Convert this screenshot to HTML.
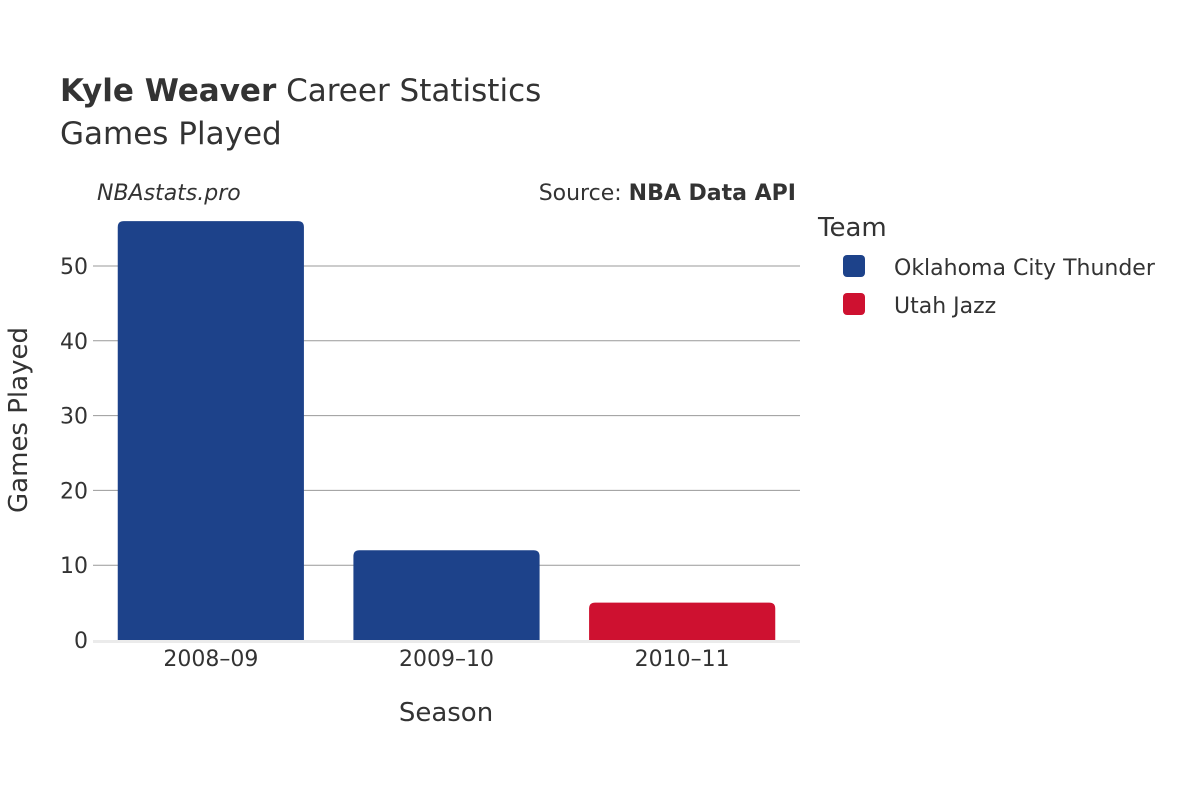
<!DOCTYPE html>
<html><head><meta charset="utf-8"><style>
body{margin:0;background:#fff;}
svg text{font-family:"DejaVu Sans","Liberation Sans",sans-serif;fill:#333;}
</style></head><body>
<svg width="1200" height="800" xmlns="http://www.w3.org/2000/svg">
<text x="60" y="101" font-size="31"><tspan font-weight="bold">Kyle Weaver</tspan> Career Statistics</text>
<text x="60" y="144" font-size="31">Games Played</text>
<text x="97" y="200" font-size="22" font-style="italic">NBAstats.pro</text>
<text x="796" y="200" font-size="22" text-anchor="end">Source: <tspan font-weight="bold">NBA Data API</tspan></text>
<g id="grid"></g>
<g id="bars"></g>
<g id="xt"></g>
<text x="446" y="721" font-size="26" text-anchor="middle">Season</text>
<text transform="translate(27,420) rotate(-90)" font-size="26" text-anchor="middle">Games Played</text>
<text x="818" y="236" font-size="26">Team</text>
<g><rect x="843" y="255" width="22" height="22" rx="4" fill="#1d428a"/><text x="894" y="275" font-size="22">Oklahoma City Thunder</text></g>
<g><rect x="843" y="293" width="22" height="22" rx="4" fill="#ce1130"/><text x="894" y="313" font-size="22">Utah Jazz</text></g>
</svg>
<script>
const categories=["2008–09","2009–10","2010–11"];
const gamesPlayed=[56,12,5];
const teams=["Oklahoma City Thunder","Oklahoma City Thunder","Utah Jazz"];
const yTicks=[0,10,20,30,40,50];
const teamColors={"Oklahoma City Thunder":"#1d428a","Utah Jazz":"#ce1130"};
const NS="http://www.w3.org/2000/svg";
const x0=93,x1=800,y0=640,pxPer=7.48;
const y=v=>y0-v*pxPer;
const band=(x1-x0)/categories.length;
function mk(t,a,p){const e=document.createElementNS(NS,t);for(const k in a)e.setAttribute(k,a[k]);p.appendChild(e);return e;}
const g=document.getElementById('grid');
yTicks.forEach(t=>{
  if(t>0){const l=mk('line',{x1:x0,x2:x1,y1:y(t),y2:y(t),stroke:'#999','stroke-width':1},g);
  
  }
  const tx=mk('text',{x:88,y:y(t)+8,'font-size':22,'text-anchor':'end'},g);tx.textContent=t;
  
  
});
const b=document.getElementById('bars');
const bw=band*0.79;
categories.forEach((c,i)=>{
  const bx=x0+band*i+(band-bw)/2,top=y(gamesPlayed[i]),h=y0-top,r=Math.min(6,h/2);
  const p=mk('path',{d:`M${bx},${y0}V${top+r}Q${bx},${top} ${bx+r},${top}H${bx+bw-r}Q${bx+bw},${top} ${bx+bw},${top+r}V${y0}Z`,fill:teamColors[teams[i]]},b);
  
  
  const tx=mk('text',{x:bx+bw/2,y:666,'font-size':22,'text-anchor':'middle'},document.getElementById('xt'));tx.textContent=c;
  
  
});
const base=mk('line',{x1:x0,x2:x1,y1:y0+1.5,y2:y0+1.5,stroke:'#ebebeb','stroke-width':3},b);


</script>
</body></html>
